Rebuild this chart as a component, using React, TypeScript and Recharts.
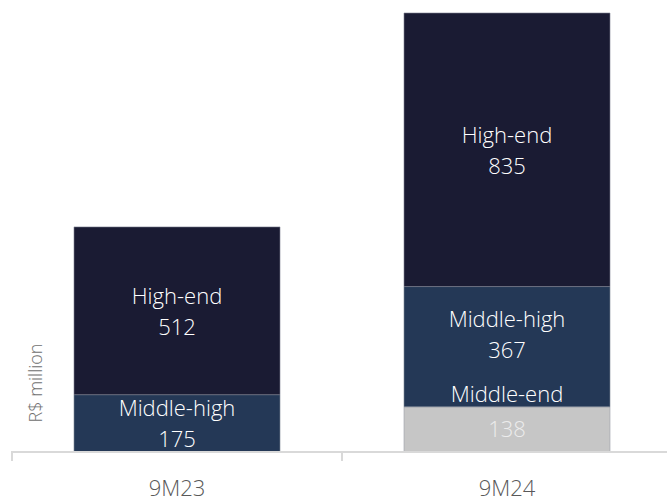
import { BarChart, Bar, XAxis, YAxis, LabelList } from 'recharts';

const periods = ['9M23', '9M24'];
const middleEnd = [0, 138];
const middleHigh = [175, 367];
const highEnd = [512, 835];

const data = periods.map((p, i) => ({
  period: p,
  middleEnd: middleEnd[i],
  middleHigh: middleHigh[i],
  highEnd: highEnd[i],
}));

const FONT = '"Open Sans", sans-serif';

const AxisTick = (props: any) => {
  const { x, y, payload, index, visibleTicksCount } = props;
  const half = payload.offset || 0;
  const lineY = y - 9;
  return (
    <g>
      <line x1={x - half} y1={lineY} x2={x - half} y2={lineY + 10} stroke="#d9d9d9" strokeWidth={2} />
      {index === visibleTicksCount - 1 && (
        <line x1={x + half} y1={lineY} x2={x + half} y2={lineY + 10} stroke="#d9d9d9" strokeWidth={2} />
      )}
      <text x={x} y={y + 27} dominantBaseline="central" textAnchor="middle" fill="#595959" fontSize={22} fontWeight={300} fontFamily={FONT}>
        {payload.value}
      </text>
    </g>
  );
};

const makeLabel = (name: string, kind: string) => (props: any) => {
  const { x, y, width, height, value, index } = props;
  if (!value) return null;
  const cx = x + width / 2;
  let cy = y + height / 2;
  if (kind === 'end') {
    return (
      <g fontFamily={FONT} fontSize={22} fontWeight={300} textAnchor="middle">
        <text x={cx} y={y - 14} dominantBaseline="central" fill="#ffffff">{name}</text>
        <text x={cx} y={cy - 1} dominantBaseline="central" fill="#ececec">{value}</text>
      </g>
    );
  }
  // lift the middle-high label when a middle-end name sits just below it
  if (kind === 'mid' && middleEnd[index] > 0) cy -= 13;
  return (
    <g fontFamily={FONT} fontSize={22} fontWeight={300} textAnchor="middle" fill="#ffffff">
      <text x={cx} y={cy - 16} dominantBaseline="central">{name}</text>
      <text x={cx} y={cy + 15} dominantBaseline="central">{value}</text>
    </g>
  );
};

export default function App() {
  return (
    <div style={{ position: 'relative', width: 667, height: 501, overflow: 'hidden' }}>
      <style>{'body{margin:0}'}</style>
      <BarChart
        width={680}
        height={501}
        data={data}
        margin={{ top: 13, right: 8, bottom: 0, left: 12 }}
        barCategoryGap={62}
      >
        <XAxis
          dataKey="period"
          axisLine={{ stroke: '#d9d9d9', strokeWidth: 2 }}
          tickLine={false}
          tick={<AxisTick />}
          height={49}
          interval={0}
        />
        <YAxis hide domain={[0, 1340]} />
        <Bar dataKey="middleEnd" stackId="a" fill="#c6c6c6" stroke="#9aa0a8" strokeWidth={0.6} isAnimationActive={false}>
          <LabelList dataKey="middleEnd" content={makeLabel('Middle-end', 'end')} />
        </Bar>
        <Bar dataKey="middleHigh" stackId="a" fill="#243856" stroke="#7c8696" strokeWidth={0.6} isAnimationActive={false}>
          <LabelList dataKey="middleHigh" content={makeLabel('Middle-high', 'mid')} />
        </Bar>
        <Bar dataKey="highEnd" stackId="a" fill="#1a1b33" stroke="#7c8090" strokeWidth={0.6} isAnimationActive={false}>
          <LabelList dataKey="highEnd" content={makeLabel('High-end', 'high')} />
        </Bar>
      </BarChart>
      <div
        style={{
          position: 'absolute',
          left: 35,
          top: 383,
          transform: 'translate(-50%, -50%) rotate(-90deg)',
          whiteSpace: 'nowrap',
          fontFamily: FONT,
          fontSize: 18,
          fontWeight: 300,
          color: '#707070',
        }}
      >
        R$ million
      </div>
    </div>
  );
}
